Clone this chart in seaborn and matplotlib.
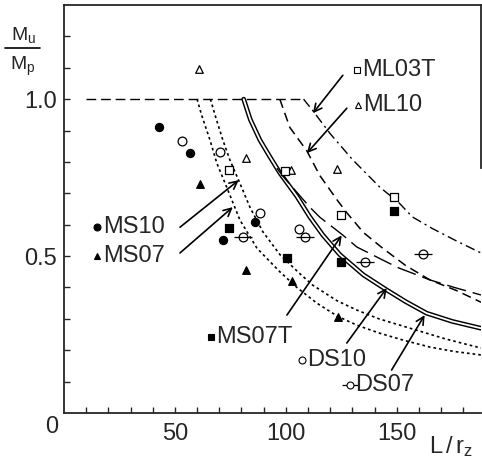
import numpy as np
import pandas as pd
import matplotlib
matplotlib.use('Agg')
import matplotlib.pyplot as plt
from matplotlib.lines import Line2D
import seaborn as sns

# ── Test points (L/rz, Mu/Mp) ──
ms10_x = [43, 57, 71.5, 86]
ms10_y = [0.91, 0.83, 0.55, 0.61]
ms07_x = [61.3, 82, 102.7, 123.4]
ms07_y = [0.73, 0.455, 0.42, 0.305]
ms07t_x = [74.5, 100.4, 125, 149]
ms07t_y = [0.59, 0.495, 0.48, 0.643]
ds10_x = [53, 70.5, 88.3, 106]
ds10_y = [0.866, 0.832, 0.638, 0.585]
ds07_x = [80.6, 108.6, 135.6, 162]
ds07_y = [0.56, 0.56, 0.48, 0.506]
ml10_x = [61, 82.2, 102.5, 123]
ml10_y = [1.095, 0.812, 0.774, 0.777]
ml03t_x = [74.5, 99.8, 125, 149]
ml03t_y = [0.774, 0.772, 0.632, 0.688]

# ── Design curves ──
plateau_x = [10, 108]
plateau_y = [1.0, 1.0]

ms10_curve_x = [60, 62, 65.8, 68.9, 73.9, 79.3, 87, 97.3, 105, 114, 123.4, 132, 142, 153, 165, 176, 188]
ms10_curve_y = [1.0, 0.95, 0.87, 0.796, 0.71, 0.615, 0.525, 0.45, 0.40, 0.35, 0.308, 0.28, 0.255, 0.232, 0.21, 0.196, 0.185]

ms07_curve_x = [66, 68.5, 71.6, 74.8, 79.3, 83.8, 89.6, 97.3, 106, 112, 123, 132, 142, 157, 172, 188]
ms07_curve_y = [1.0, 0.94, 0.87, 0.806, 0.732, 0.656, 0.578, 0.505, 0.446, 0.408, 0.358, 0.328, 0.30, 0.268, 0.236, 0.207]

ds_curve_x = [81, 84, 88.3, 92.5, 97.3, 105, 110.8, 116.7, 124.3, 135, 145.5, 154, 163.5, 175, 188]
ds_curve_y = [1.0, 0.935, 0.87, 0.82, 0.765, 0.69, 0.625, 0.567, 0.505, 0.44, 0.392, 0.355, 0.318, 0.292, 0.27]

ds10_curve_x = [96, 98.6, 106, 110.8, 115.3, 125.7, 132, 145.5, 151, 165, 176, 188]
ds10_curve_y = [0.78, 0.755, 0.695, 0.656, 0.624, 0.567, 0.529, 0.481, 0.462, 0.424, 0.40, 0.376]

ml10_curve_x = [97.3, 101.8, 109.5, 115.3, 123, 127.5, 135, 143.7, 154, 165, 177, 188]
ml10_curve_y = [1.0, 0.91, 0.835, 0.757, 0.68, 0.638, 0.575, 0.525, 0.47, 0.424, 0.39, 0.353]

ml03t_curve_x = [108, 112, 120, 130, 142.3, 151, 157, 166, 177, 188]
ml03t_curve_y = [1.0, 0.965, 0.89, 0.808, 0.72, 0.67, 0.625, 0.588, 0.548, 0.51]

sns.set_style('ticks')
plt.rcParams['font.family'] = ['Liberation Sans', 'DejaVu Sans']
plt.rcParams['mathtext.fontset'] = 'custom'
plt.rcParams['mathtext.rm'] = 'Liberation Sans'
plt.rcParams['mathtext.it'] = 'Liberation Sans'

fig = plt.figure(figsize=(4.82, 4.67), dpi=100)
ax = fig.add_axes([64 / 482, 54 / 467, 417 / 482, 408 / 467])

# ── curves ──
def curve(x, y, **kw):
    d = pd.DataFrame({'x': x, 'y': y})
    kw.setdefault('color', 'black')
    sns.lineplot(data=d, x='x', y='y', sort=False, estimator=None, ax=ax, **kw)

curve(plateau_x, plateau_y, lw=1.0, linestyle=(0, (7, 3.5)))
curve(ms10_curve_x, ms10_curve_y, lw=1.2, linestyle=(0, (1.6, 1.8)))
curve(ms07_curve_x, ms07_curve_y, lw=1.2, linestyle=(0, (1.6, 1.8)))
# double line: thick black with white core
curve(ds_curve_x, ds_curve_y, lw=3.4)
curve(ds_curve_x, ds_curve_y, lw=1.3, color='white')
curve(ds10_curve_x, ds10_curve_y, lw=1.0, linestyle=(0, (14, 5)))
curve(ml10_curve_x, ml10_curve_y, lw=1.1, linestyle=(0, (6, 3.5)))
curve(ml03t_curve_x, ml03t_curve_y, lw=1.0, linestyle=(0, (7, 3, 1.5, 3)))

# ── test points ──
def pts(x, y, marker, filled, size=34):
    d = pd.DataFrame({'x': x, 'y': y})
    sns.scatterplot(data=d, x='x', y='y', marker=marker, s=size, ax=ax,
                    color='black' if filled else 'white',
                    edgecolor='black', linewidth=0.9, zorder=5)

pts(ms10_x, ms10_y, 'o', True)
pts(ms07_x, ms07_y, '^', True, 30)
pts(ms07t_x, ms07t_y, 's', True, 30)
pts(ds10_x, ds10_y, 'o', False, 40)
pts(ds07_x, ds07_y, 'o', False, 40)
ax.scatter(ds07_x, ds07_y, marker='_', s=150, color='black', lw=0.9, zorder=6)
pts(ml10_x, ml10_y, '^', False, 30)
pts(ml03t_x, ml03t_y, 's', False, 34)

# ── labels with key markers ──
fs = 17
lab = [
    ('MS10', 14.9, 0.592, 'o', 'k'),
    ('MS07', 14.9, 0.50, '^', 'k'),
    ('MS07T', 66.2, 0.242, 's', 'k'),
    ('DS10', 107.2, 0.169, 'o', 'w'),
    ('DS07', 128.8, 0.089, 'o', 'w'),
    ('ML03T', 132.0, 1.092, 's', 'w'),
    ('ML10', 132.4, 0.981, '^', 'w'),
]
for name, mx, my, mk, fc in lab:
    ax.plot([mx], [my], marker=mk, ms=5, mfc=fc, mec='black', mew=0.8,
            color='black', zorder=6, clip_on=False)
    ax.text(mx + 2.6, my, name, fontsize=fs, va='center', ha='left')
ax.plot([128.8], [0.089], marker='_', ms=11, color='black', mew=0.9)

arrows = [
    ((52.3, 0.592), (78.8, 0.742)),
    ((52.3, 0.51), (76.1, 0.656)),
    ((100.5, 0.312), (125.2, 0.566)),
    ((127.5, 0.223), (145.5, 0.398)),
    ((147.7, 0.137), (162.6, 0.312)),
    ((125.7, 1.076), (112.2, 0.955)),
    ((127.5, 0.971), (109.5, 0.828)),
]
for a0, a1 in arrows:
    ax.annotate('', xy=a1, xytext=a0,
                arrowprops=dict(arrowstyle='->', lw=1.2, color='black',
                                mutation_scale=14, shrinkA=0, shrinkB=0))

# ── axes ──
ax.set_xlim(0, 188)
ax.set_ylim(0, 1.3)
ax.set_xticks([50, 100, 150])
ax.set_xticks(np.arange(10, 190, 10), minor=True)
ax.set_yticks([0.5, 1.0])
ax.set_yticklabels(['0.5', '1.0'])
ax.set_yticks(np.arange(0.1, 1.3, 0.1), minor=True)
ax.tick_params(which='both', direction='in', length=4, width=1.0,
               labelsize=fs, top=False, right=False)
ax.tick_params(axis='y', pad=5)
ax.tick_params(axis='x', pad=7)
ax.set_xlabel('')
ax.set_ylabel('')
for s in ['left', 'bottom', 'top', 'right']:
    ax.spines[s].set_linewidth(1.3)
ax.spines['right'].set_bounds(0.78, 1.3)

fig.text(52 / 482, 1 - 427 / 467, '0', fontsize=fs, ha='center', va='center')
fig.text(0.048, 0.925, r'M$_\mathregular{u}$', fontsize=14, ha='center', va='center')
fig.text(0.048, 0.858, r'M$_\mathregular{p}$', fontsize=14, ha='center', va='center')
fig.add_artist(Line2D([0.01, 0.083], [0.897, 0.897], color='black', lw=1.2))
fig.text(0.936, 0.043, r'L$\,$/$\,$r$_\mathregular{z}$', fontsize=fs,
         ha='center', va='center')

fig.savefig('out.png', dpi=100)
